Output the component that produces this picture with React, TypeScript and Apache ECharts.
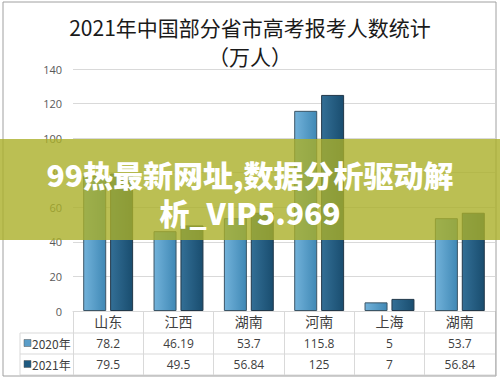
import React, { useEffect, useRef } from 'react';
import * as echarts from 'echarts';

const titleLines = ['2021年中国部分省市高考报考人数统计', '（万人）'];
const categories = ['山东', '江西', '湖南', '河南', '上海', '湖南'];
const seriesNames = ['2020年', '2021年'];
const values2020 = [78.2, 46.19, 53.7, 115.8, 5, 53.7];
const values2021 = [79.5, 49.5, 56.84, 125, 7, 56.84];
const tableText2020 = ['78.2', '46.19', '53.7', '115.8', '5', '53.7'];
const tableText2021 = ['79.5', '49.5', '56.84', '125', '7', '56.84'];
const yMin = 0;
const yMax = 140;
const yInterval = 20;
const bannerLines = ['99热最新网址,数据分析驱动解', '析_VIP5.969'];

const FONT = '"Noto Sans CJK SC", "Open Sans", sans-serif';
const C2020 = new echarts.graphic.LinearGradient(0, 0, 1, 0, [
  { offset: 0, color: '#72b2da' },
  { offset: 1, color: '#3f88b5' },
]);
const C2021 = new echarts.graphic.LinearGradient(0, 0, 1, 0, [
  { offset: 0, color: '#336f96' },
  { offset: 1, color: '#194d6f' },
]);

export default function App() {
  const ref = useRef<HTMLDivElement>(null);
  useEffect(() => {
    if (!ref.current) return;
    const chart = echarts.init(ref.current, undefined, { renderer: 'svg' });
    const gridLeft = 73;
    const gridRight = 5;
    const gridTop = 69;
    const axisY = 311;
    const row1 = 333;
    const row2 = 354;
    const row3 = 375;
    chart.setOption({
      animation: false,
      backgroundColor: '#ffffff',
      title: {
        text: titleLines.join('\n'),
        left: 'center',
        top: 12,
        padding: 0,
        textStyle: {
          fontFamily: FONT,
          fontSize: 21,
          fontWeight: 'normal',
          lineHeight: 29,
          color: '#1a1a1a',
        },
      },
      grid: { left: gridLeft, right: gridRight, top: gridTop, bottom: 381 - axisY },
      xAxis: {
        type: 'category',
        data: categories,
        axisLine: { show: true, lineStyle: { color: '#d9d9d9', width: 1 } },
        axisTick: { show: true, length: row3 - axisY, lineStyle: { color: '#d9d9d9' } },
        axisLabel: { margin: 3, fontSize: 14, color: '#404040', fontFamily: FONT },
      },
      yAxis: {
        type: 'value',
        min: yMin,
        max: yMax,
        interval: yInterval,
        axisLine: { show: false },
        axisTick: { show: false },
        axisLabel: { margin: 11, fontSize: 11, color: '#595959', fontFamily: '"Open Sans", sans-serif' },
        splitLine: { lineStyle: { color: '#d9d9d9', width: 1 } },
      },
      series: [
        {
          name: seriesNames[0],
          type: 'bar',
          data: values2020,
          barWidth: 23,
          barGap: '17%',
          itemStyle: { color: C2020, borderColor: '#3b5566', borderWidth: 1 },
        },
        {
          name: seriesNames[1],
          type: 'bar',
          data: values2021,
          barWidth: 23,
          barGap: '17%',
          itemStyle: { color: C2021, borderColor: '#22384a', borderWidth: 1 },
        },
      ],
    });

    const xs = categories.map((_, i) => chart.convertToPixel({ xAxisIndex: 0 }, i) as number);
    const right = 500 - gridRight;
    const lineStyle = { stroke: '#d9d9d9', lineWidth: 1 };
    const graphics: any[] = [];
    graphics.push({ type: 'line', shape: { x1: 20, y1: row1, x2: right, y2: row1 }, style: lineStyle, z: 10 });
    graphics.push({ type: 'line', shape: { x1: 20, y1: row2, x2: right, y2: row2 }, style: lineStyle, z: 10 });
    graphics.push({ type: 'line', shape: { x1: 20, y1: row3, x2: right, y2: row3 }, style: lineStyle, z: 10 });
    graphics.push({ type: 'line', shape: { x1: 20, y1: row1, x2: 20, y2: row3 }, style: lineStyle, z: 10 });
    const rows = [
      { y: (row1 + row2) / 2, texts: tableText2020, color: '#5b9ec9', name: seriesNames[0] },
      { y: (row2 + row3) / 2, texts: tableText2021, color: '#1e5a80', name: seriesNames[1] },
    ];
    rows.forEach((r) => {
      graphics.push({ type: 'rect', shape: { x: 24, y: r.y - 4, width: 7, height: 7 }, style: { fill: r.color, stroke: '#555', lineWidth: 0.5 }, z: 10 });
      graphics.push({
        type: 'text', x: 32, y: r.y,
        style: { text: r.name, fontSize: 12, fill: '#404040', fontFamily: FONT, textAlign: 'left', textVerticalAlign: 'middle' },
        z: 10,
      });
      r.texts.forEach((t, i) => {
        graphics.push({
          type: 'text', x: xs[i], y: r.y,
          style: { text: t, fontSize: 12, fill: '#404040', fontFamily: '"Open Sans", sans-serif', textAlign: 'center', textVerticalAlign: 'middle' },
          z: 10,
        });
      });
    });
    graphics.push({ type: 'rect', shape: { x: 3, y: 2, width: 493, height: 374 }, style: { fill: 'none', stroke: '#a0a0a0', lineWidth: 1 }, z: 20 });
    graphics.push({ type: 'rect', shape: { x: 0, y: 139, width: 500, height: 101 }, style: { fill: 'rgba(170,175,40,0.8)' }, z: 100 });
    graphics.push({
      type: 'text', x: 250, y: 193,
      style: {
        text: bannerLines.join('\n'),
        fontSize: 30,
        lineHeight: 38,
        fontWeight: 900,
        fill: '#ffffff',
        fontFamily: FONT,
        textAlign: 'center',
        textVerticalAlign: 'middle',
      },
      z: 101,
    });
    chart.setOption({ graphic: { elements: graphics } });
    return () => chart.dispose();
  }, []);
  return <div ref={ref} style={{ position: 'fixed', left: 0, top: 0, width: 500, height: 381 }} />;
}
